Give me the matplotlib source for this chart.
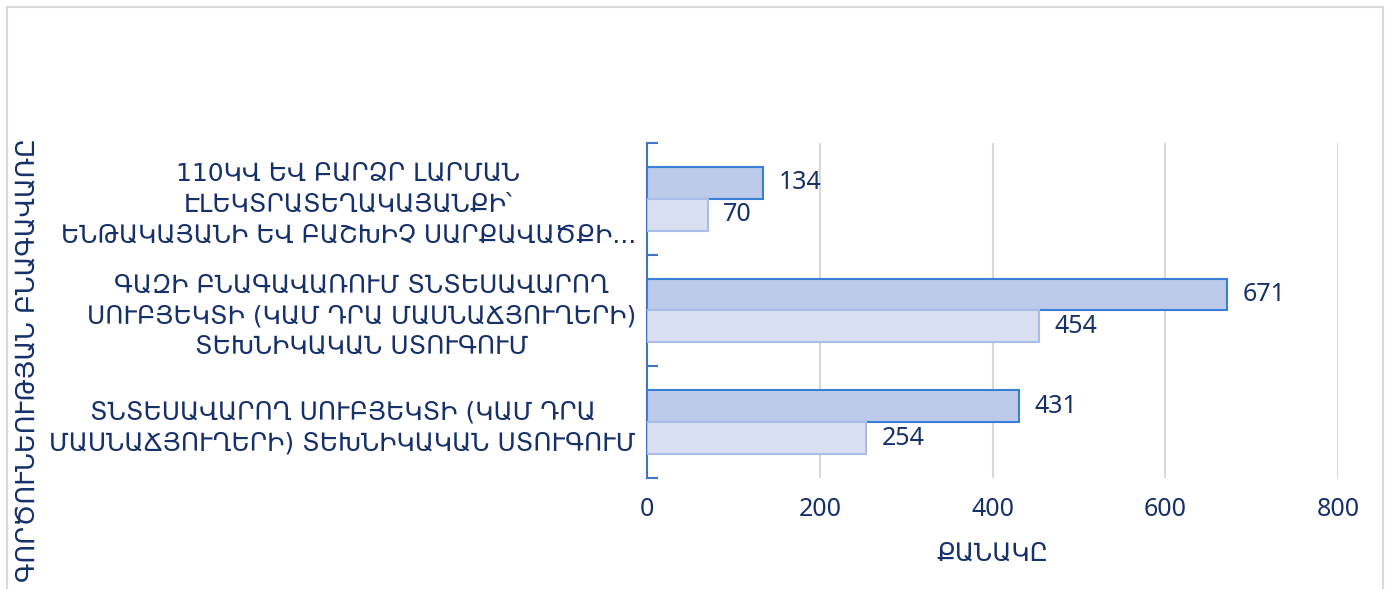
import matplotlib.pyplot as plt
from matplotlib.patches import Rectangle
import numpy as np

# Data (top category first)
categories = [
    "110ԿՎ ԵՎ ԲԱՐՁՐ ԼԱՐՄԱՆ\nԷԼԵԿՏՐԱՏԵՂԱԿԱՅԱՆՔԻ՝\nԵՆԹԱԿԱՅԱՆԻ ԵՎ ԲԱՇԽԻՉ ՍԱՐՔԱՎԱԾՔԻ...",
    "ԳԱԶԻ ԲՆԱԳԱՎԱՌՈՒՄ ՏՆՏԵՍԱՎԱՐՈՂ\nՍՈՒԲՅԵԿՏԻ (ԿԱՄ ԴՐԱ ՄԱՍՆԱՃՅՈՒՂԵՐԻ)\nՏԵԽՆԻԿԱԿԱՆ ՍՏՈՒԳՈՒՄ",
    "ՏՆՏԵՍԱՎԱՐՈՂ ՍՈՒԲՅԵԿՏԻ (ԿԱՄ ԴՐԱ\nՄԱՍՆԱՃՅՈՒՂԵՐԻ) ՏԵԽՆԻԿԱԿԱՆ ՍՏՈՒԳՈՒՄ",
]
series_a = [134, 671, 431]
series_b = [70, 454, 254]
x_ticks = [0, 200, 400, 600, 800]
x_label = "ՔԱՆԱԿԸ"
y_label = "ԳՈՐԾՈՒՆԵՈՒԹՅԱՆ ԲՆԱԳԱՎԱՌԸ"

text_color = '#16306A'
num_font = ['Noto Sans', 'DejaVu Sans']
plt.rcParams['font.family'] = ['DejaVu Sans']

fig = plt.figure(figsize=(13.9, 5.89), dpi=100)
fig.patch.set_facecolor('white')
ax = fig.add_axes([0.4655, 0.1885, 0.4971, 0.5687])

n = len(categories)
ypos = np.arange(n)[::-1]
h = 0.285
ax.barh(ypos + h / 2, series_a, height=h, color='#BCCBEA', edgecolor='#3A7FD5',
        linewidth=1.5, zorder=3)
ax.barh(ypos - h / 2, series_b, height=h, color='#D9E0F3', edgecolor='#A9BDE6',
        linewidth=1.5, zorder=3)

for y, v in zip(ypos, series_a):
    ax.text(v + 18, y + h / 2, str(v), va='center', ha='left', fontsize=18,
            color=text_color, family=num_font)
for y, v in zip(ypos, series_b):
    ax.text(v + 18, y - h / 2, str(v), va='center', ha='left', fontsize=18,
            color=text_color, family=num_font)

ax.set_xlim(0, 800)
ax.set_ylim(-0.5, n - 0.5)
ax.set_xticks(x_ticks)
ax.set_xticklabels([str(t) for t in x_ticks], fontsize=18, color=text_color,
                   family=num_font)
ax.tick_params(axis='x', length=0, pad=14)
ax.grid(axis='x', color='#D9D9D9', linewidth=1.5, zorder=0)

ax.set_yticks(ypos)
ax.set_yticklabels(categories, fontsize=18, color=text_color, ha='right',
                   multialignment='center', linespacing=1.35)
ax.tick_params(axis='y', length=0, pad=8)
ax.set_yticks(np.arange(-0.5, n), minor=True)
ax.tick_params(axis='y', which='minor', direction='in', length=8, width=1.5,
               color='#4472C4')

for s in ['top', 'right', 'bottom']:
    ax.spines[s].set_visible(False)
ax.spines['left'].set_color('#4472C4')
ax.spines['left'].set_linewidth(1.5)

ax.set_xlabel(x_label, fontsize=18, color=text_color, labelpad=14)

fig.text(28 / 1390, 1 - 360 / 589, y_label, rotation=90, fontsize=18.5,
         color=text_color, ha='center', va='center')

fig.patches.append(Rectangle((7 / 1390, -0.1), 1376 / 1390, 1.1 - 7 / 589,
                             transform=fig.transFigure, fill=False,
                             edgecolor='#D9D9D9', linewidth=1.5))

plt.savefig('out.png', dpi=100, facecolor='white')
